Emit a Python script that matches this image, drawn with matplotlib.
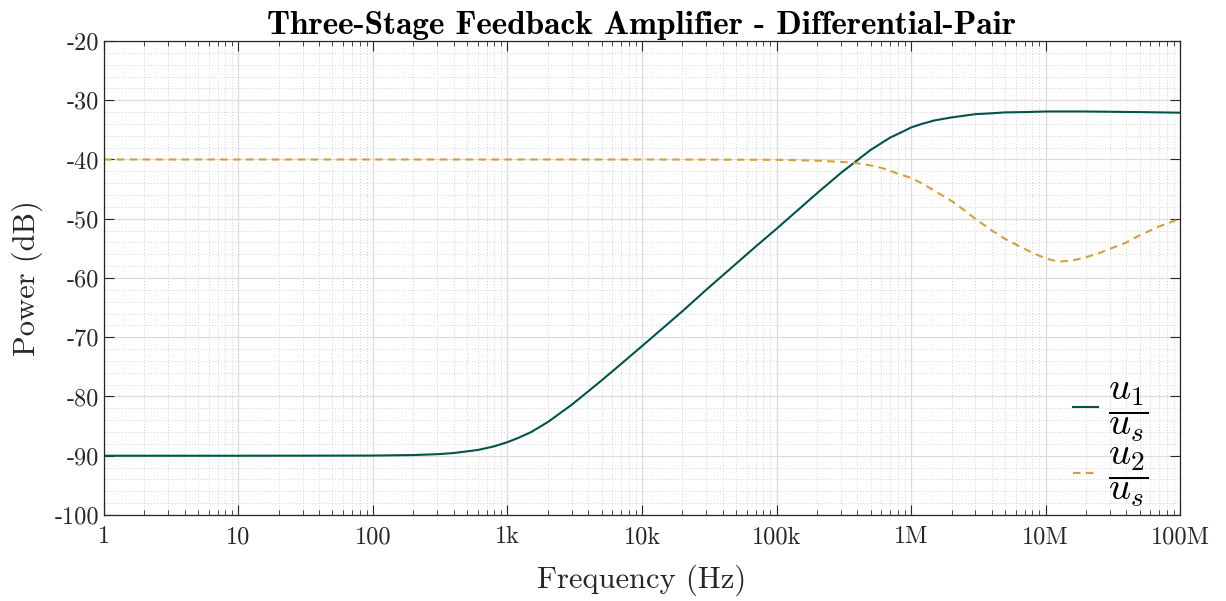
import matplotlib
matplotlib.use("Agg")
import numpy as np
from matplotlib import pyplot as plt
from matplotlib.ticker import FixedLocator, LogLocator, MultipleLocator, NullFormatter

# Values
freq_u1 = [1, 10, 100, 200, 300, 400, 500, 600, 700, 800, 1e3, 1.2e3, 1.5e3, 2e3, 3e3, 4e3,
           5e3, 7e3, 1e4, 2e4, 3e4, 5e4, 7e4, 1e5, 2e5, 3e5, 5e5, 7e5, 8.5e5, 1e6, 1.2e6,
           1.5e6, 2e6, 2.5e6, 3e6, 4e6, 5e6, 7e6, 1e7, 2e7, 5e7, 1e8]
gain_u1 = [-90.0, -90.0, -89.97, -89.88, -89.74, -89.54, -89.26, -89.03, -88.7, -88.4,
           -87.7, -87.0, -86.0, -84.3, -81.4, -79.1, -77.3, -74.5, -71.5, -65.6, -62.0,
           -57.6, -54.7, -51.7, -45.7, -42.3, -38.4, -36.3, -35.4, -34.6, -34.0, -33.4,
           -32.9, -32.6, -32.35, -32.2, -32.05, -32.0, -31.9, -31.9, -32.0, -32.1]

freq_u2 = [1, 1e4, 1e5, 2e5, 3e5, 4e5, 5e5, 6e5, 7e5, 8e5, 1e6, 1.2e6, 1.5e6, 2e6, 2.5e6,
           3e6, 4e6, 5e6, 7e6, 8.5e6, 1e7, 1.15e7, 1.3e7, 1.5e7, 1.7e7, 2e7, 2.5e7, 3e7,
           4e7, 5e7, 6e7, 7e7, 8.5e7, 1e8]
gain_u2 = [-40.0, -40.0, -40.05, -40.2, -40.4, -40.65, -41.0, -41.4, -41.9, -42.4, -43.1,
           -44.0, -45.3, -47.0, -48.6, -50.0, -52.0, -53.4, -55.1, -56.0, -56.7, -57.05,
           -57.2, -57.1, -56.9, -56.5, -55.8, -55.1, -54.0, -52.8, -52.0, -51.3, -50.6, -50.0]

x_ticks = [1, 10, 100, 1e3, 1e4, 1e5, 1e6, 1e7, 1e8]
x_labels = ["1", "10", "100", "1k", "10k", "100k", "1M", "10M", "100M"]
y_ticks = list(range(-100, -19, 10))

plt.rcParams["font.family"] = "cmr10"
plt.rcParams["mathtext.fontset"] = "cm"
plt.rcParams["axes.unicode_minus"] = False
plt.rcParams["axes.formatter.use_mathtext"] = True

fig = plt.figure(figsize=(12.26, 6.01), dpi=100)
ax = fig.add_axes([0.0848, 0.1431, 0.8777, 0.7887])

ax.plot(freq_u1, gain_u1, color="#00544C", lw=1.5, label=r"$\dfrac{u_1}{u_s}$")
ax.plot(freq_u2, gain_u2, color="#D4A03A", lw=1.5, linestyle=(0, (3.6, 2.6)),
        label=r"$\dfrac{u_2}{u_s}$")

ax.set_xscale("log")
ax.set_xlim(1, 1e8)
ax.set_ylim(-100, -20)
ax.xaxis.set_major_locator(FixedLocator(x_ticks))
ax.set_xticklabels(x_labels)
ax.xaxis.set_minor_locator(LogLocator(base=10, subs=np.arange(2, 10), numticks=20))
ax.xaxis.set_minor_formatter(NullFormatter())
ax.yaxis.set_major_locator(FixedLocator(y_ticks))
ax.set_yticklabels([f"{v:d}" for v in y_ticks])
ax.yaxis.set_minor_locator(MultipleLocator(2))

ax.grid(which="major", color="#dcdcdc", lw=0.9, ls="-")
ax.grid(which="minor", color="#d2d2d2", lw=0.7, ls=(0, (1, 2)))
ax.set_axisbelow(True)

ax.tick_params(which="both", direction="in", top=True, right=True, colors="#262626",
               labelsize=17.5)
ax.tick_params(which="major", length=7, width=0.8)
ax.tick_params(axis="x", which="major", pad=8)
ax.tick_params(axis="x", which="minor", length=3.5, width=0.6)
ax.tick_params(axis="y", which="minor", length=0)
for s in ax.spines.values():
    s.set_color("#262626")
    s.set_linewidth(0.9)

ax.set_title("Three-Stage Feedback Amplifier - Differential-Pair", fontsize=24,
             family="cmb10", pad=5)
ax.set_xlabel("Frequency (Hz)", fontsize=22, color="#262626", labelpad=12)
ax.set_ylabel("Power (dB)", fontsize=22, color="#262626", labelpad=8)

ax.legend(loc="lower right", frameon=False, fontsize=28, handlelength=0.65,
          handletextpad=0.25, labelspacing=0.05, borderaxespad=0.0,
          bbox_to_anchor=(0.985, -0.02))

fig.savefig("out.png", dpi=100)
